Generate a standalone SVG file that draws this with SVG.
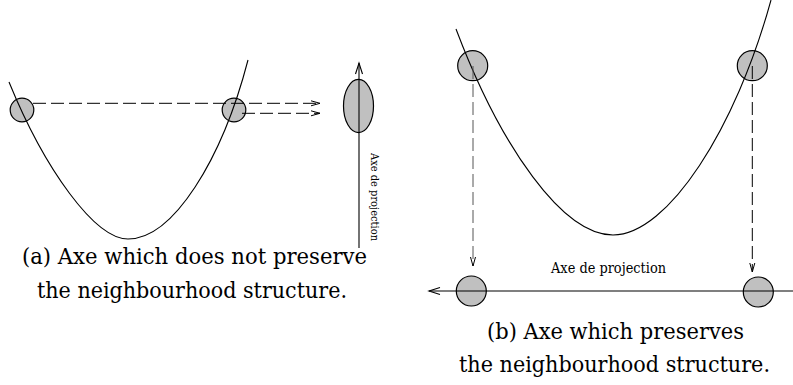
<svg xmlns="http://www.w3.org/2000/svg" width="793" height="385" viewBox="0 0 793 385">
<style>
.ball{fill:#c0c0c0;stroke:#000;stroke-width:1.2}
.curve{fill:none;stroke:#000;stroke-width:1.1}
.axis{fill:none;stroke:#000;stroke-width:1.1}
.dash{fill:none;stroke:#000;stroke-width:1;stroke-dasharray:13 5}
text{font-family:'DejaVu Serif','Liberation Serif','Times New Roman',serif;fill:#000}
.cap{font-size:22px}
</style>
<defs>
<marker id="arr" markerUnits="userSpaceOnUse" markerWidth="12" markerHeight="8" refX="9" refY="3" orient="auto" overflow="visible">
<path d="M0,0.5 L9,3 L0,5.5" fill="none" stroke="#000" stroke-width="1" stroke-dasharray="none"/>
</marker>
<marker id="arrAx" markerUnits="userSpaceOnUse" markerWidth="14" markerHeight="10" refX="11" refY="4" orient="auto" overflow="visible">
<path d="M0,0.5 L11,4 L0,7.5" fill="none" stroke="#000" stroke-width="1.1" stroke-dasharray="none"/>
</marker>
</defs>
<rect width="793" height="385" fill="#fff"/>

<!-- Panel (a) -->
<g id="a-ball-left"><circle class="ball" cx="22" cy="110" r="11.8"/></g>
<g id="a-ball-right"><circle class="ball" cx="234" cy="110" r="11.8"/></g>
<g id="a-ellipse"><ellipse class="ball" cx="358.5" cy="106" rx="15" ry="26.6"/></g>
<g id="a-curve"><path class="curve" d="M9,82 C45,170 95,239 128,239 C173,239 222,160 248,60"/></g>
<g id="a-axis">
<line class="axis" x1="359" y1="248" x2="359" y2="63" marker-end="url(#arrAx)"/>
<text font-size="10.5" textLength="88" lengthAdjust="spacingAndGlyphs" transform="translate(370.5,153) rotate(90)">Axe de projection</text>
</g>

<!-- Panel (b) -->
<g id="b-ball-top-left"><circle class="ball" cx="472.7" cy="65.7" r="15"/></g>
<g id="b-ball-top-right"><circle class="ball" cx="752.3" cy="65.7" r="15"/></g>
<g id="b-ball-bottom-left"><circle class="ball" cx="471.3" cy="291" r="15"/></g>
<g id="b-ball-bottom-right"><circle class="ball" cx="758.3" cy="292" r="15"/></g>
<g id="b-curve"><path class="curve" d="M456,29 C501,148 563,235 613,235 C668,235 736,128 771,0"/></g>
<g id="b-axis">
<line class="axis" x1="793" y1="291" x2="429" y2="291" marker-end="url(#arrAx)"/>
<text font-size="14" x="551" y="273" textLength="115" lengthAdjust="spacingAndGlyphs">Axe de projection</text>
</g>

<!-- Connectors -->
<g id="connectors">
<line class="dash" x1="33" y1="103.3" x2="320" y2="103.3" marker-end="url(#arr)"/>
<line class="dash" x1="242" y1="113.3" x2="320" y2="113.3" marker-end="url(#arr)"/>
<line class="dash" x1="473" y1="66" x2="473" y2="266" marker-end="url(#arr)" style="stroke:#555"/>
<line class="dash" x1="752.3" y1="66" x2="752.3" y2="272" marker-end="url(#arr)"/>
</g>

<!-- Captions -->
<g id="caption-a">
<text class="cap" x="22" y="264" textLength="345" lengthAdjust="spacingAndGlyphs">(a) Axe which does not preserve</text>
<text class="cap" x="37" y="298" textLength="310" lengthAdjust="spacingAndGlyphs">the neighbourhood structure.</text>
</g>
<g id="caption-b">
<text class="cap" x="487" y="339" textLength="257" lengthAdjust="spacingAndGlyphs">(b) Axe which preserves</text>
<text class="cap" x="770" y="372" text-anchor="end" textLength="311" lengthAdjust="spacingAndGlyphs">the neighbourhood structure.</text>
</g>
</svg>
